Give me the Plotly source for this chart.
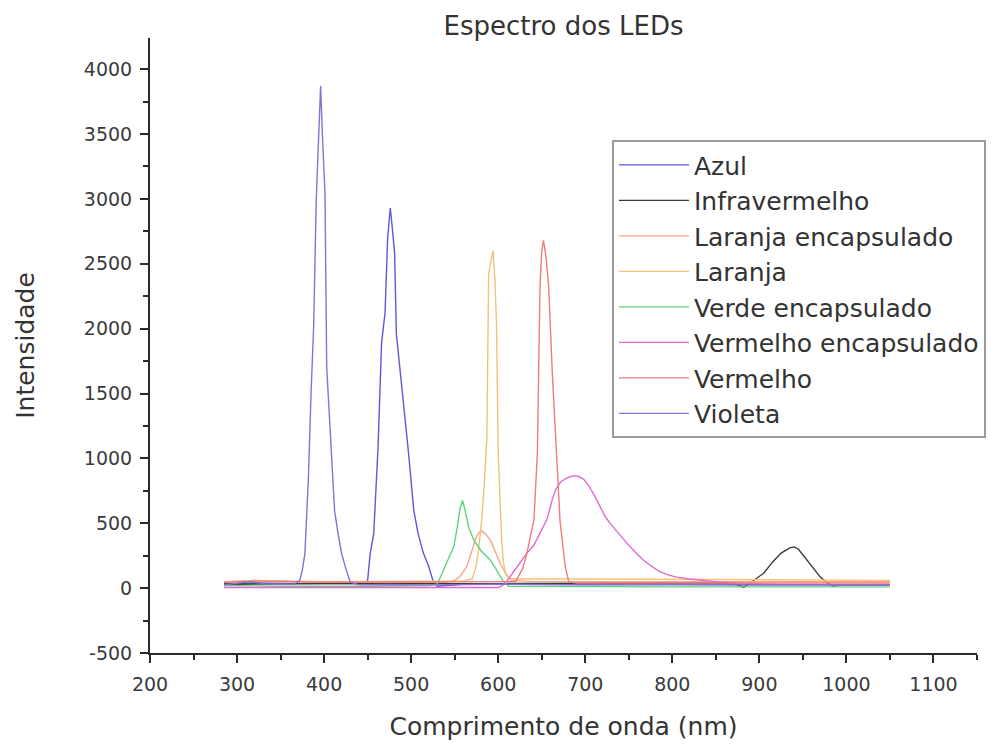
import plotly.graph_objects as go

# Emission spectra of the LEDs: wavelength (nm) and measured intensity per LED
azul_nm = [285, 320, 380, 430, 445, 450, 453, 457, 459, 462, 466, 470, 473, 476, 478, 481, 483, 487, 491, 497, 503, 508, 514, 520, 525, 530, 560, 650, 800, 950, 1050]
azul_int = [35, 40, 35, 35, 35, 60, 270, 420, 650, 1090, 1890, 2120, 2700, 2930, 2800, 2580, 1960, 1700, 1420, 1040, 600, 420, 270, 170, 60, 15, 30, 30, 25, 25, 25]

infra_nm = [285, 400, 600, 800, 870, 882, 893, 905, 915, 925, 935, 940, 945, 955, 962, 970, 978, 985, 995, 1050]
infra_int = [30, 35, 35, 40, 40, 5, 60, 115, 200, 270, 310, 318, 300, 215, 150, 85, 40, 15, 25, 25]

laranja_enc_nm = [285, 320, 400, 500, 540, 550, 556, 564, 570, 575, 580, 585, 591, 597, 603, 610, 615, 640, 700, 800, 900, 1000, 1050]
laranja_enc_int = [45, 60, 45, 45, 45, 60, 90, 165, 300, 400, 445, 420, 370, 280, 180, 100, 60, 50, 50, 50, 50, 50, 50]

laranja_nm = [285, 320, 400, 500, 560, 570, 574, 577, 581, 584, 587, 589, 592, 594, 596, 598, 600, 602, 604, 606, 608, 612, 620, 700, 800, 900, 1000, 1050]
laranja_int = [50, 60, 50, 55, 55, 70, 150, 270, 520, 800, 1160, 2420, 2550, 2600, 2400, 2060, 1040, 650, 370, 200, 115, 75, 70, 70, 68, 65, 62, 60]

verde_enc_nm = [285, 350, 450, 520, 530, 537, 543, 549, 553, 556, 559, 562, 566, 572, 580, 591, 598, 605, 612, 700, 800, 900, 1050]
verde_enc_int = [20, 15, 15, 20, 30, 140, 220, 320, 470, 610, 675, 600, 470, 370, 290, 215, 140, 60, 15, 10, 10, 10, 10]

vermelho_enc_nm = [285, 350, 450, 550, 600, 605, 612, 618, 625, 633, 641, 648, 656, 662, 666, 672, 679, 686, 692, 698, 703, 710, 717, 723, 729, 738, 748, 757, 767, 777, 786, 796, 805, 820, 832, 850, 870, 890, 920, 960, 1000, 1050]
vermelho_enc_int = [5, 5, 5, 5, 5, 20, 70, 130, 200, 270, 330, 420, 530, 680, 760, 820, 850, 865, 862, 840, 800, 720, 625, 550, 495, 420, 345, 280, 215, 165, 125, 100, 85, 70, 60, 50, 42, 35, 28, 25, 25, 25]

vermelho_nm = [285, 320, 400, 500, 600, 620, 628, 633, 637, 641, 645, 648, 650, 652, 655, 658, 662, 666, 671, 677, 681, 690, 800, 900, 1050]
vermelho_int = [45, 55, 45, 45, 45, 50, 150, 270, 400, 523, 1040, 2320, 2600, 2680, 2550, 2320, 1680, 1160, 520, 165, 50, 40, 40, 40, 40]

violeta_nm = [285, 300, 315, 330, 350, 365, 372, 375, 378, 382, 385, 388, 391, 393, 395, 396, 398, 400, 401, 403, 406, 409, 412, 416, 420, 425, 430, 440, 470, 520, 600, 700, 800, 900, 1000, 1050]
violeta_int = [25, 40, 50, 35, 30, 30, 60, 140, 270, 860, 1500, 2020, 3000, 3300, 3700, 3870, 3500, 3200, 3040, 1700, 1330, 985, 600, 420, 270, 150, 45, 25, 28, 25, 30, 25, 28, 25, 25, 25]

series_names = ["Azul", "Infravermelho", "Laranja encapsulado", "Laranja",
                "Verde encapsulado", "Vermelho encapsulado", "Vermelho", "Violeta"]
series_x = [azul_nm, infra_nm, laranja_enc_nm, laranja_nm,
            verde_enc_nm, vermelho_enc_nm, vermelho_nm, violeta_nm]
series_y = [azul_int, infra_int, laranja_enc_int, laranja_int,
            verde_enc_int, vermelho_enc_int, vermelho_int, violeta_int]
series_colors = ["#5b5bd6", "#3a3a3a", "#f4a58a", "#f2c27a",
                 "#5fd47f", "#e06ad0", "#ef7b7b", "#8a6fd6"]

# Axis tick labels
x_tick_vals = [200, 300, 400, 500, 600, 700, 800, 900, 1000, 1100]
x_tick_text = ["200", "300", "400", "500", "600", "700", "800", "900", "1000", "1100"]
y_tick_vals = [-500, 0, 500, 1000, 1500, 2000, 2500, 3000, 3500, 4000]
y_tick_text = ["-500", "0", "500", "1000", "1500", "2000", "2500", "3000", "3500", "4000"]

FONT = "DejaVu Sans"
TEXT = "#333333"
AXIS = "#2a2a2a"

fig = go.Figure()
for i, (name, xs, ys, col) in enumerate(zip(series_names, series_x, series_y, series_colors)):
    fig.add_trace(go.Scatter(
        x=xs, y=ys, mode="lines", name=name,
        line=dict(color=col, width=1.4),
        legendgroup=f"g{i}",
    ))

fig.update_layout(
    width=1001, height=745,
    margin=dict(l=150, r=24, t=38, b=92, autoexpand=False),
    paper_bgcolor="white", plot_bgcolor="white",
    title=dict(text="Espectro dos LEDs", x=(150 + 977) / 2 / 1001, xanchor="center",
               y=1 - 26 / 745, yanchor="middle", font=dict(family=FONT, size=26, color=TEXT)),
    showlegend=True,
    legend=dict(
        x=0.5586, y=0.834, xanchor="left", yanchor="top",
        bordercolor="#9a9a9a", borderwidth=2, bgcolor="white",
        font=dict(family=FONT, size=25, color=TEXT),
        traceorder="grouped", tracegroupgap=0, itemwidth=70,
    ),
)

fig.update_xaxes(
    range=[200, 1150], showgrid=False, zeroline=False,
    showline=True, linecolor=AXIS, linewidth=2,
    ticks="outside", ticklen=8, tickwidth=1.5, tickcolor=AXIS,
    tickvals=x_tick_vals, ticktext=x_tick_text, ticklabelstandoff=5,
    minor=dict(tickvals=[v + 50 for v in x_tick_vals], ticklen=5, ticks="outside",
               tickcolor=AXIS, tickwidth=1.5),
    tickfont=dict(family=FONT, size=19, color="#3a3a3a"),
    title=dict(text="Comprimento de onda (nm)", font=dict(family=FONT, size=25, color=TEXT), standoff=24),
)
fig.update_yaxes(
    range=[-500, 4240], showgrid=False, zeroline=False,
    showline=True, linecolor=AXIS, linewidth=2,
    ticks="outside", ticklen=8, tickwidth=1.5, tickcolor=AXIS,
    tickvals=y_tick_vals, ticktext=y_tick_text, ticklabelstandoff=4,
    minor=dict(tickvals=[v + 250 for v in y_tick_vals], ticklen=5, ticks="outside",
               tickcolor=AXIS, tickwidth=1.5),
    tickfont=dict(family=FONT, size=19, color="#3a3a3a"),
    title=dict(text="Intensidade", font=dict(family=FONT, size=25, color=TEXT), standoff=42),
)

fig.write_html("out.html")
